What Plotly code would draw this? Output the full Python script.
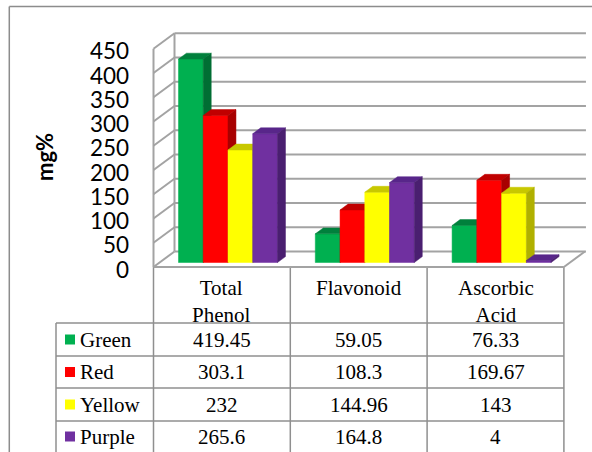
import plotly.graph_objects as go

# ---------------- data ----------------
categories = ["Total<br>Phenol", "Flavonoid", "Ascorbic<br>Acid"]
series_names = ["Green", "Red", "Yellow", "Purple"]
green = [419.45, 59.05, 76.33]
red = [303.1, 108.3, 169.67]
yellow = [232, 144.96, 143]
purple = [265.6, 164.8, 4]
series_values = [green, red, yellow, purple]
y_ticks = [0, 50, 100, 150, 200, 250, 300, 350, 400, 450]
y_title = "mg%"

# ---------------- styles ----------------
front_colors = ["#00B050", "#FF0000", "#FFFF00", "#7030A0"]
top_colors = ["#00803C", "#C00000", "#C8C800", "#58268A"]
side_colors = ["#006E33", "#A80000", "#B0B000", "#4A1F70"]
GRID = "#a3a3a3"
TABLE_LINE = "#8f8f8f"
SERIF = "'Liberation Serif', 'Times New Roman', Times, serif"
SANS = "Lato, Carlito, Calibri, sans-serif"

W, H = 592, 452
FRONT_LEFT_PX = 153.5      # left edge of front plane / table
CAT_PX = 136.8             # width of a category
BASE_PX = 267.0            # y pixel of value 0 on front plane
PX_PER_UNIT = 0.485        # pixels per mg%
DEPTH_DX_PX, DEPTH_DY_PX = 21.0, 15.5
BAR_PX = 24.75
BAR_D0, BAR_DD = 0.29, 0.38  # bar front depth and bar depth (fraction of wall depth)

x_range = [-0.5 - FRONT_LEFT_PX / CAT_PX, -0.5 + (W - FRONT_LEFT_PX) / CAT_PX]
y_range = [-(H - BASE_PX) / PX_PER_UNIT, BASE_PX / PX_PER_UNIT]
DX = DEPTH_DX_PX / CAT_PX
DY = DEPTH_DY_PX / PX_PER_UNIT
BW = BAR_PX / CAT_PX
n_cat = len(categories)
x_lo, x_hi = -0.5, n_cat - 0.5
y_max = max(y_ticks)


def px(xpx):
    return xpx / W


def py(ypx):
    return 1 - ypx / H


fig = go.Figure()
shapes = []
annotations = []


def line(x0, y0, x1, y1, color, width, xref="x", yref="y"):
    shapes.append(dict(type="line", x0=x0, y0=y0, x1=x1, y1=y1, xref=xref, yref=yref,
                       line=dict(color=color, width=width), layer="below"))


# outer frame
line(px(9.3), py(6.5), px(W + 2), py(6.5), "#8c8c8c", 1.5, "paper", "paper")
line(px(9.3), py(6.5), px(9.3), py(H + 2), "#8c8c8c", 1.5, "paper", "paper")

# back wall gridlines and left wall diagonals
for v in y_ticks:
    line(x_lo + DX, v + DY, x_hi + DX * 1.05, v + DY, GRID, 2)
    line(x_lo, v, x_lo + DX, v + DY, GRID, 2)
line(x_lo, 0, x_lo, y_max, GRID, 2)
line(x_lo + DX, DY, x_lo + DX, y_max + DY, GRID, 2)
# floor
line(x_lo, 0, x_hi, 0, GRID, 2)
line(x_hi, 0, x_hi + DX, DY, GRID, 2)

# bars (front, top, side faces)
n_s = len(series_values)
for j, vals in enumerate(series_values):
    fx, fy, tx, ty, sx, sy = [], [], [], [], [], []
    for i, v in enumerate(vals):
        xc = i + (j - (n_s - 1) / 2) * BW + BAR_D0 * DX
        x0, x1 = xc - BW / 2, xc + BW / 2
        b = BAR_D0 * DY
        t = v + b
        ddx, ddy = BAR_DD * DX, BAR_DD * DY
        fx += [x0, x1, x1, x0, x0, None]
        fy += [b, b, t, t, b, None]
        tx += [x0, x1, x1 + ddx, x0 + ddx, x0, None]
        ty += [t, t, t + ddy, t + ddy, t, None]
        sx += [x1, x1 + ddx, x1 + ddx, x1, x1, None]
        sy += [b, b + ddy, t + ddy, t, b, None]
    for xs, ys, col in ((fx, fy, front_colors[j]), (tx, ty, top_colors[j]), (sx, sy, side_colors[j])):
        fig.add_trace(go.Scatter(x=xs, y=ys, mode="lines", fill="toself", fillcolor=col,
                                 line=dict(color=col, width=0.5), hoverinfo="skip",
                                 showlegend=False, name=series_names[j]))

# y tick labels
for v in y_ticks:
    annotations.append(dict(x=px(131), xref="paper", y=v, yref="y", text=str(v),
                            showarrow=False, xanchor="right", yanchor="middle", yshift=-2,
                            font=dict(family=SANS, size=22.5, color="#000000")))
annotations.append(dict(x=px(45), xref="paper", y=py(157), yref="paper", text="<b>%s</b>" % y_title,
                        showarrow=False, textangle=-90, xanchor="center", yanchor="middle",
                        font=dict(family=SANS, size=22, color="#000000")))

# data table
TABLE_TOP = 267
row_lines = [323, 356, 388, 421]
row_centers = [339.5, 372, 404.5, 436.5]
LEG_LEFT = 56
for k in range(n_cat + 1):
    xp = FRONT_LEFT_PX + k * CAT_PX
    line(px(xp), py(TABLE_TOP), px(xp), py(H + 2), TABLE_LINE, 1.5, "paper", "paper")
line(px(LEG_LEFT), py(row_lines[0]), px(LEG_LEFT), py(H + 2), TABLE_LINE, 1.5, "paper", "paper")
for r in row_lines:
    line(px(LEG_LEFT), py(r), px(FRONT_LEFT_PX + n_cat * CAT_PX), py(r), TABLE_LINE, 1.5, "paper", "paper")

for i, c in enumerate(categories):
    annotations.append(dict(x=i, xref="x", y=py(274), yref="paper", text=c, showarrow=False,
                            xanchor="center", yanchor="top", align="center",
                            font=dict(family=SERIF, size=21, color="#000000")))
for j, (name, vals) in enumerate(zip(series_names, series_values)):
    yc = row_centers[j]
    shapes.append(dict(type="rect", xref="paper", yref="paper", x0=px(65), x1=px(75),
                       y0=py(yc - 5), y1=py(yc + 5), fillcolor=front_colors[j],
                       line=dict(width=0), layer="above"))
    annotations.append(dict(x=px(78), xref="paper", y=py(yc), yref="paper", text=name,
                            showarrow=False, xanchor="left", yanchor="middle",
                            font=dict(family=SERIF, size=21, color="#000000")))
    for i, v in enumerate(vals):
        annotations.append(dict(x=i, xref="x", y=py(yc), yref="paper", text=f"{v:g}",
                                showarrow=False, xanchor="center", yanchor="middle",
                                font=dict(family=SERIF, size=21, color="#000000")))

fig.update_layout(
    width=W, height=H, margin=dict(l=0, r=0, t=0, b=0),
    paper_bgcolor="white", plot_bgcolor="white",
    xaxis=dict(range=x_range, visible=False, fixedrange=True),
    yaxis=dict(range=y_range, visible=False, fixedrange=True),
    shapes=shapes, annotations=annotations, showlegend=False,
)
fig.write_html("out.html")
